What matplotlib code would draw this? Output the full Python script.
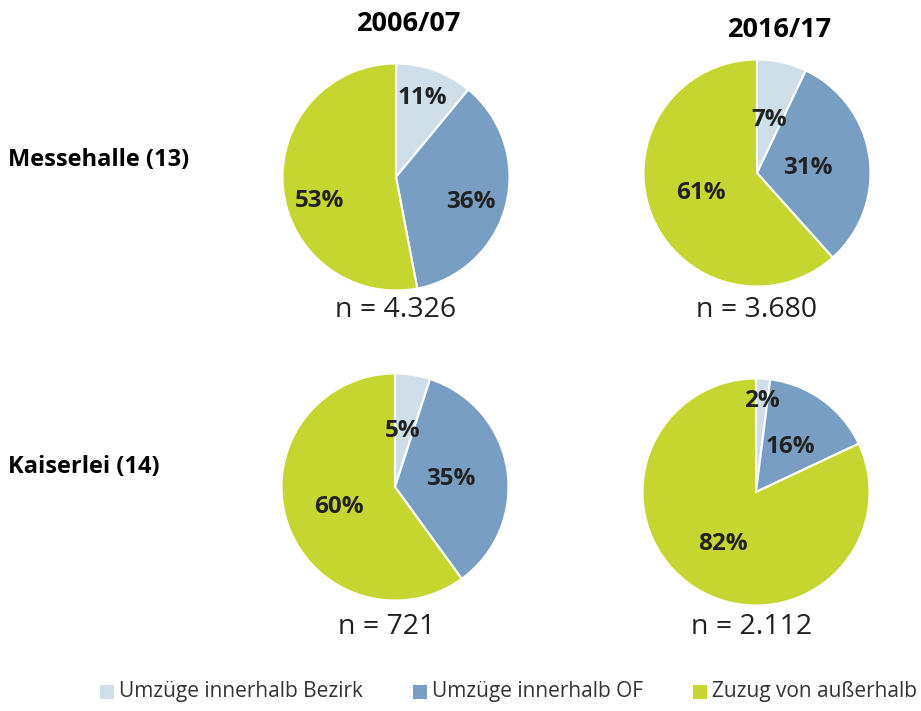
import numpy as np
import matplotlib
matplotlib.use("Agg")
import matplotlib.pyplot as plt
from matplotlib import font_manager
from matplotlib.patches import Rectangle

# ---- data ----
categories = ["Umzüge innerhalb Bezirk", "Umzüge innerhalb OF", "Zuzug von außerhalb"]
periods = ["2006/07", "2016/17"]
districts = ["Messehalle (13)", "Kaiserlei (14)"]
messehalle_0607 = [11, 36, 53]
messehalle_1617 = [7, 31, 61]
kaiserlei_0607 = [5, 35, 60]
kaiserlei_1617 = [2, 16, 82]
n_labels = [["n = 4.326", "n = 3.680"], ["n = 721", "n = 2.112"]]

# ---- style ----
colors = ["#cfdfe9", "#789fc3", "#c6d630"]
txt = "#222222"
W, H = 921, 711
fig = plt.figure(figsize=(W / 100, H / 100), dpi=100)

avail = {f.name for f in font_manager.fontManager.ttflist}
main_font = "Open Sans" if "Open Sans" in avail else "DejaVu Sans"
cond_font = "Liberation Sans Narrow" if "Liberation Sans Narrow" in avail else main_font


def px(x, y):
    return x / W, 1 - y / H


# pie centre (px) and label offsets (in radius units) – layout only
pies = [
    (messehalle_0607, 396, 177, [(0.23, 0.70), (0.66, -0.22), (-0.67, -0.21)]),
    (messehalle_1617, 757, 173, [(0.11, 0.47), (0.45, 0.04), (-0.49, -0.18)]),
    (kaiserlei_0607, 395, 487, [(0.07, 0.49), (0.49, 0.07), (-0.49, -0.18)]),
    (kaiserlei_1617, 756, 492, [(0.05, 0.80), (0.30, 0.40), (-0.29, -0.46)]),
]
R = 113.5
for vals, cx, cy, offs in pies:
    ax = fig.add_axes([(cx - R) / W, 1 - (cy + R) / H, 2 * R / W, 2 * R / H])
    wedges, _ = ax.pie(vals, colors=colors, startangle=90, counterclock=False,
                       wedgeprops=dict(edgecolor="white", linewidth=1.5))
    ax.set_xlim(-1, 1)
    ax.set_ylim(-1, 1)
    ax.set_aspect("equal")
    for v, (dx, dy) in zip(vals, offs):
        ax.text(dx, dy, f"{v}%", ha="center", va="center",
                fontsize=17.5, fontweight="bold", color=txt, family=main_font)

# titles
fig.text(*px(409, 24), periods[0], ha="center", va="center", fontsize=19.5,
         fontweight="bold", color="black", family=cond_font)
fig.text(*px(780, 30), periods[1], ha="center", va="center", fontsize=19.5,
         fontweight="bold", color="black", family=cond_font)

# row labels
fig.text(*px(8, 160), districts[0], ha="left", va="center", fontsize=17,
         fontweight="bold", color="black", family=main_font)
fig.text(*px(8, 467), districts[1], ha="left", va="center", fontsize=17,
         fontweight="bold", color="black", family=main_font)

# n labels
n_pos = [[(396, 310), (757, 310)], [(387, 627), (752, 627)]]
for i in range(2):
    for j in range(2):
        fig.text(*px(*n_pos[i][j]), n_labels[i][j], ha="center", va="center",
                 fontsize=20.5, color=txt, family=main_font)

# legend (manual)
leg_x = [100, 413, 693]
leg_y = 692
sq = 14
for x0, c, lab in zip(leg_x, colors, categories):
    fig.patches.append(Rectangle((x0 / W, 1 - (leg_y + sq / 2) / H), sq / W, sq / H,
                                 transform=fig.transFigure, facecolor=c,
                                 edgecolor="none"))
    fig.text(*px(x0 + sq + 5, leg_y), lab, ha="left", va="center", fontsize=15,
             color="#333333", family=cond_font)

fig.savefig("out.png", dpi=100, facecolor="white")
